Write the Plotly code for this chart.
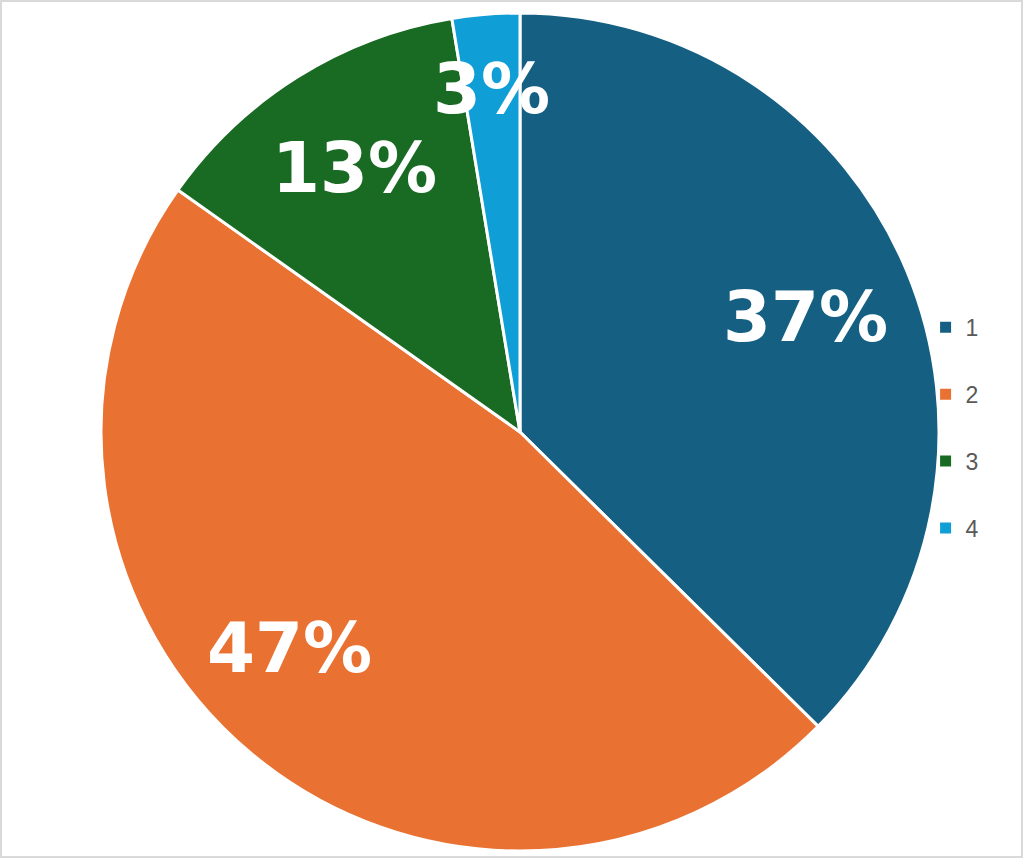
import math
import plotly.graph_objects as go

categories = ["1", "2", "3", "4"]
values = [37.4, 47.4, 12.6, 2.6]
colors = ["#156082", "#E97132", "#196B24", "#0F9ED5"]

# label placement styling: radial fraction of radius and angular nudge (deg)
label_radius = [0.734, 0.753, 0.743, 0.821]
label_nudge = [0.7, 6.9, 0.0, 0.0]

total = sum(values)

fig = go.Figure()
fig.add_trace(go.Pie(
    labels=categories,
    values=values,
    sort=False,
    direction="clockwise",
    rotation=0,
    marker=dict(colors=colors, line=dict(color="white", width=3)),
    textinfo="none",
    showlegend=False,
    hoverinfo="label+percent",
    domain=dict(x=[0, 1], y=[0, 1]),
))

for cat, col in zip(categories, colors):
    fig.add_trace(go.Scatter(
        x=[None], y=[None], mode="markers", name=cat,
        legendgroup=cat,
        marker=dict(symbol="square", size=13, color=col,
                    line=dict(color="white", width=2)),
    ))

annotations = []
cum = 0.0
for v, f, nudge in zip(values, label_radius, label_nudge):
    mid = (cum + v / 2) / total * 360 + nudge
    cum += v
    th = math.radians(mid)
    annotations.append(dict(
        x=0.5 + 0.5 * f * math.sin(th),
        y=0.5 + 0.5 * f * math.cos(th),
        xref="paper", yref="paper",
        text=f"{round(v / total * 100)}%",
        showarrow=False, xanchor="center", yanchor="middle",
        font=dict(family="DejaVu Sans", size=69, color="white", weight="bold"),
    ))

fig.update_layout(
    width=1024, height=858,
    margin=dict(l=101, r=85, t=13, b=7, autoexpand=False),
    paper_bgcolor="white",
    plot_bgcolor="rgba(0,0,0,0)",
    xaxis=dict(visible=False),
    yaxis=dict(visible=False),
    annotations=annotations,
    legend=dict(
        x=0.984, y=0.505, xanchor="left", yanchor="middle",
        bgcolor="rgba(0,0,0,0)",
        font=dict(family="Liberation Sans", size=23, color="#595959"),
        tracegroupgap=34,
    ),
    shapes=[dict(type="rect", xref="paper", yref="paper",
                 x0=-100/838, x1=1 + 83/838, y0=-6/838, y1=1 + 12/838,
                 line=dict(color="#D9D9D9", width=2))],
)

fig.write_html(
    "out.html",
    config={"displayModeBar": False},
    post_script="document.body.style.margin='0';document.body.style.overflow='hidden';",
)
